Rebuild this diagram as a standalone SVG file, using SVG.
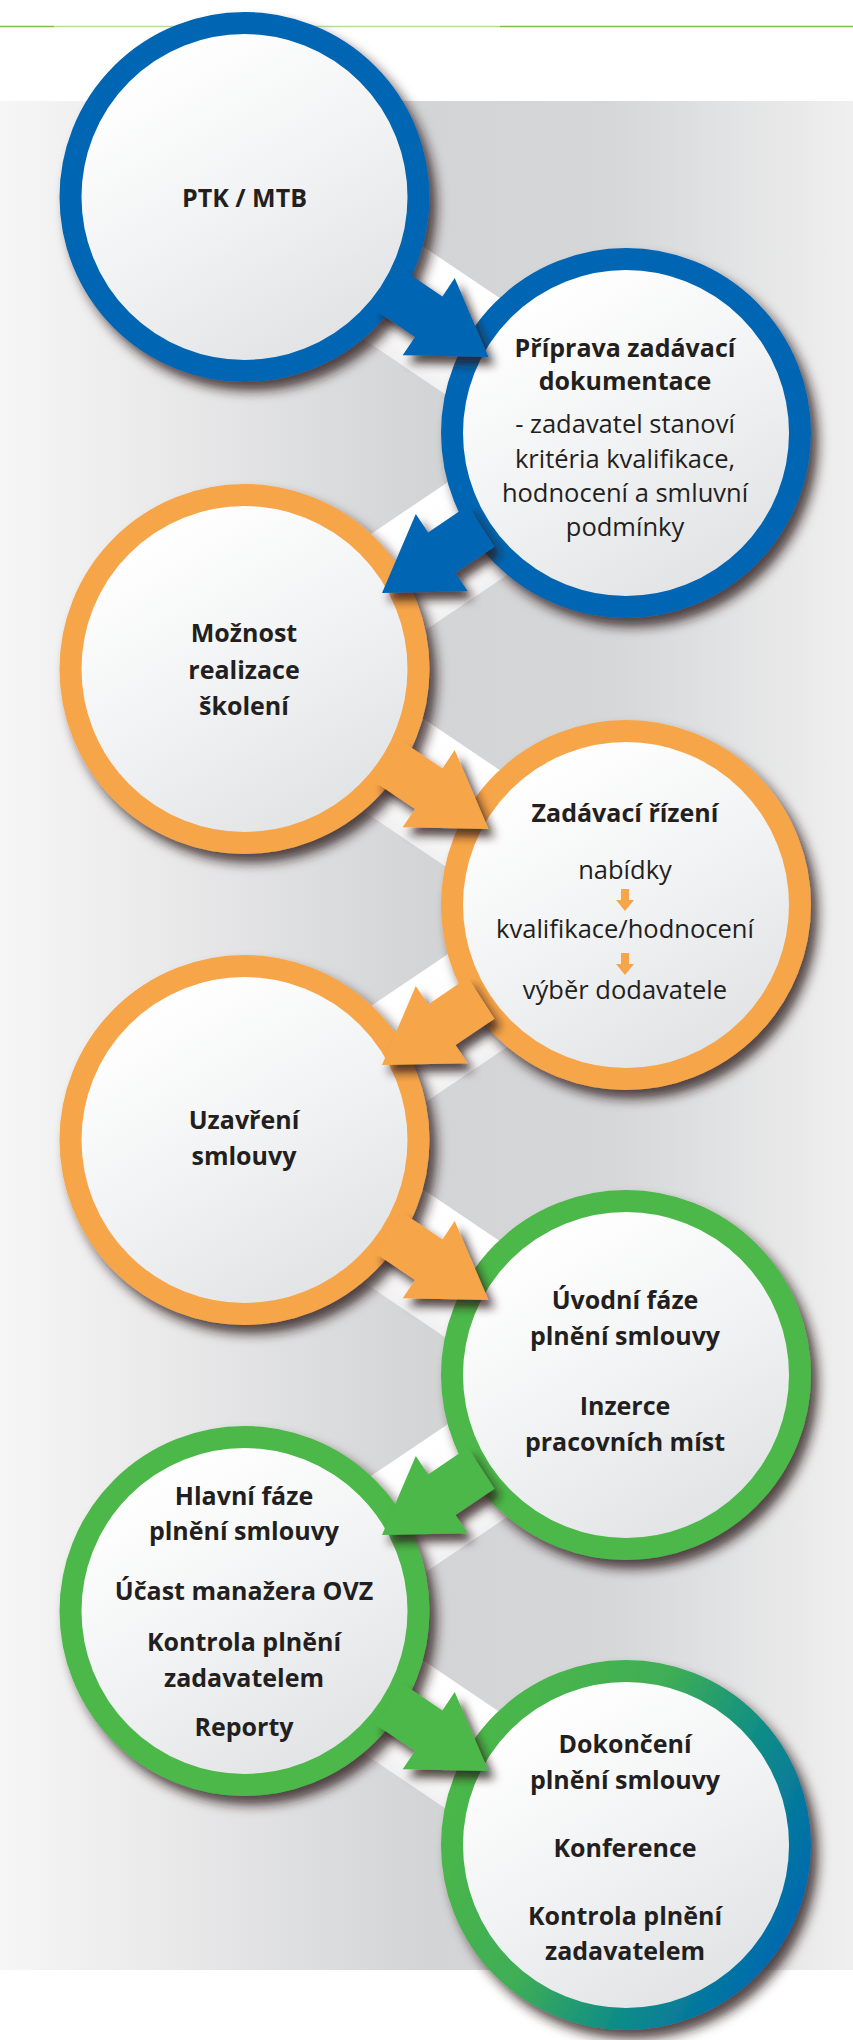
<svg xmlns="http://www.w3.org/2000/svg" width="853" height="2040" viewBox="0 0 853 2040">
  <style>
    .b{font-family:"Open Sans","Noto Sans","Liberation Sans",sans-serif;font-weight:700;font-size:25px;fill:#231f20;text-anchor:middle}
    .r{font-family:"Open Sans","Noto Sans","Liberation Sans",sans-serif;font-weight:400;font-size:25.5px;fill:#231f20;text-anchor:middle}
    .ring{stroke-width:22;fill:url(#cfill)}
    .blue{stroke:#0066b3}
    .orange{stroke:#f7a54a}
    .green{stroke:#4cb848}
  </style>
  <defs>
    <linearGradient id="bg" x1="0" y1="0" x2="1" y2="0">
      <stop offset="0" stop-color="#f6f6f6"/>
      <stop offset="0.2" stop-color="#e9e9ea"/>
      <stop offset="0.5" stop-color="#d3d4d6"/>
      <stop offset="0.72" stop-color="#d6d7d9"/>
      <stop offset="1" stop-color="#efefef"/>
    </linearGradient>
    <linearGradient id="cfill" x1="0.25" y1="0.1" x2="0.75" y2="0.95">
      <stop offset="0" stop-color="#ffffff"/>
      <stop offset="0.5" stop-color="#f1f2f3"/>
      <stop offset="1" stop-color="#e1e2e4"/>
    </linearGradient>
    <linearGradient id="lastring" x1="0" y1="0.25" x2="1" y2="0.75">
      <stop offset="0" stop-color="#4cb848"/>
      <stop offset="0.4" stop-color="#3fae55"/>
      <stop offset="0.7" stop-color="#0b8a8a"/>
      <stop offset="1" stop-color="#0066b3"/>
    </linearGradient>
    <linearGradient id="rib" gradientUnits="userSpaceOnUse" x1="274.8" y1="114.35" x2="213.2" y2="205.65">
      <stop offset="0" stop-color="#ffffff"/>
      <stop offset="0.7" stop-color="#fbfbfb"/>
      <stop offset="1" stop-color="#f1f1f2"/>
    </linearGradient>
    <filter id="csh" x="-20%" y="-20%" width="150%" height="150%">
      <feDropShadow dx="7" dy="9" stdDeviation="6" flood-color="#2a1f1f" flood-opacity="0.8"/>
    </filter>
    <filter id="ash" x="-30%" y="-30%" width="170%" height="170%">
      <feDropShadow dx="6" dy="8" stdDeviation="5" flood-color="#2a1f1f" flood-opacity="0.8"/>
    </filter>
    <polygon id="ribbon" points="25.8,-53.65 399.3,198.35 337.7,289.65 -35.8,37.65" fill="url(#rib)"/>
    <polygon id="arrow" points="158.1,72.5 197.9,99.4 210.2,81.1 244,160 158.2,158.3 170.5,140 131.5,113.7"/>
    <polygon id="mini" points="-4,0 4,0 4,11 9,11 0,22 -9,11 -4,11" fill="#f7a54a"/>
  </defs>

  <rect x="0" y="0" width="853" height="2040" fill="#ffffff"/>
  <g id="header">
    <line x1="0" y1="26.5" x2="853" y2="26.5" stroke="#7cc142" stroke-width="1.5"/>
    <rect x="54" y="19" width="446" height="9" fill="#ffffff" opacity="0.45"/>
  </g>
  <rect id="backdrop" x="0" y="101" width="853" height="1869" fill="url(#bg)"/>

  <g id="ribbons">
    <use href="#ribbon" transform="translate(244.5,197)"/>
    <use href="#ribbon" transform="translate(626,433) scale(-1,1)"/>
    <use href="#ribbon" transform="translate(244.5,669)"/>
    <use href="#ribbon" transform="translate(626,905) scale(-1,1)"/>
    <use href="#ribbon" transform="translate(244.5,1140)"/>
    <use href="#ribbon" transform="translate(626,1375) scale(-1,1)"/>
    <use href="#ribbon" transform="translate(244.5,1611)"/>
  </g>

  <g id="node1">
    <circle class="ring blue" cx="244.5" cy="197" r="174" filter="url(#csh)"/>
    <text class="b" x="244.5" y="207">PTK / MTB</text>
  </g>
  <g id="node2">
    <circle class="ring blue" cx="626" cy="433" r="174" filter="url(#csh)"/>
    <text class="b" x="625" y="357">Příprava zadávací</text>
    <text class="b" x="625" y="390">dokumentace</text>
    <text class="r" x="625" y="433">- zadavatel stanoví</text>
    <text class="r" x="625" y="467.5">kritéria kvalifikace,</text>
    <text class="r" x="625" y="501.5">hodnocení a smluvní</text>
    <text class="r" x="625" y="536">podmínky</text>
  </g>
  <g id="node3">
    <circle class="ring orange" cx="244.5" cy="669" r="174" filter="url(#csh)"/>
    <text class="b" x="244" y="642">Možnost</text>
    <text class="b" x="244" y="679">realizace</text>
    <text class="b" x="244" y="715">školení</text>
  </g>
  <g id="node4">
    <circle class="ring orange" cx="626" cy="905" r="174" filter="url(#csh)"/>
    <text class="b" x="625" y="822">Zadávací řízení</text>
    <text class="r" x="625" y="879">nabídky</text>
    <use href="#mini" x="625" y="889"/>
    <text class="r" x="625" y="938">kvalifikace/hodnocení</text>
    <use href="#mini" x="625" y="953"/>
    <text class="r" x="625" y="999">výběr dodavatele</text>
  </g>
  <g id="node5">
    <circle class="ring orange" cx="244.5" cy="1140" r="174" filter="url(#csh)"/>
    <text class="b" x="244" y="1129">Uzavření</text>
    <text class="b" x="244" y="1165">smlouvy</text>
  </g>
  <g id="node6">
    <circle class="ring green" cx="626" cy="1375" r="174" filter="url(#csh)"/>
    <text class="b" x="625" y="1309">Úvodní fáze</text>
    <text class="b" x="625" y="1345">plnění smlouvy</text>
    <text class="b" x="625" y="1415">Inzerce</text>
    <text class="b" x="625" y="1451">pracovních míst</text>
  </g>
  <g id="node7">
    <circle class="ring green" cx="244.5" cy="1611" r="174" filter="url(#csh)"/>
    <text class="b" x="244" y="1505">Hlavní fáze</text>
    <text class="b" x="244" y="1540">plnění smlouvy</text>
    <text class="b" x="244" y="1600">Účast manažera OVZ</text>
    <text class="b" x="244" y="1651">Kontrola plnění</text>
    <text class="b" x="244" y="1687">zadavatelem</text>
    <text class="b" x="244" y="1736">Reporty</text>
  </g>
  <g id="node8">
    <circle class="ring" stroke="url(#lastring)" cx="626" cy="1845" r="174" filter="url(#csh)"/>
    <text class="b" x="625" y="1753">Dokončení</text>
    <text class="b" x="625" y="1788.5">plnění smlouvy</text>
    <text class="b" x="625" y="1857">Konference</text>
    <text class="b" x="625" y="1925">Kontrola plnění</text>
    <text class="b" x="625" y="1960">zadavatelem</text>
  </g>

  <g id="connectors">
    <g filter="url(#ash)"><use href="#arrow" fill="#0066b3" transform="translate(244.5,197)"/></g>
    <g filter="url(#ash)"><use href="#arrow" fill="#0066b3" transform="translate(626,433) scale(-1,1)"/></g>
    <g filter="url(#ash)"><use href="#arrow" fill="#f7a54a" transform="translate(244.5,669)"/></g>
    <g filter="url(#ash)"><use href="#arrow" fill="#f7a54a" transform="translate(626,905) scale(-1,1)"/></g>
    <g filter="url(#ash)"><use href="#arrow" fill="#f7a54a" transform="translate(244.5,1140)"/></g>
    <g filter="url(#ash)"><use href="#arrow" fill="#4cb848" transform="translate(626,1375) scale(-1,1)"/></g>
    <g filter="url(#ash)"><use href="#arrow" fill="#4cb848" transform="translate(244.5,1611)"/></g>
  </g>
</svg>
